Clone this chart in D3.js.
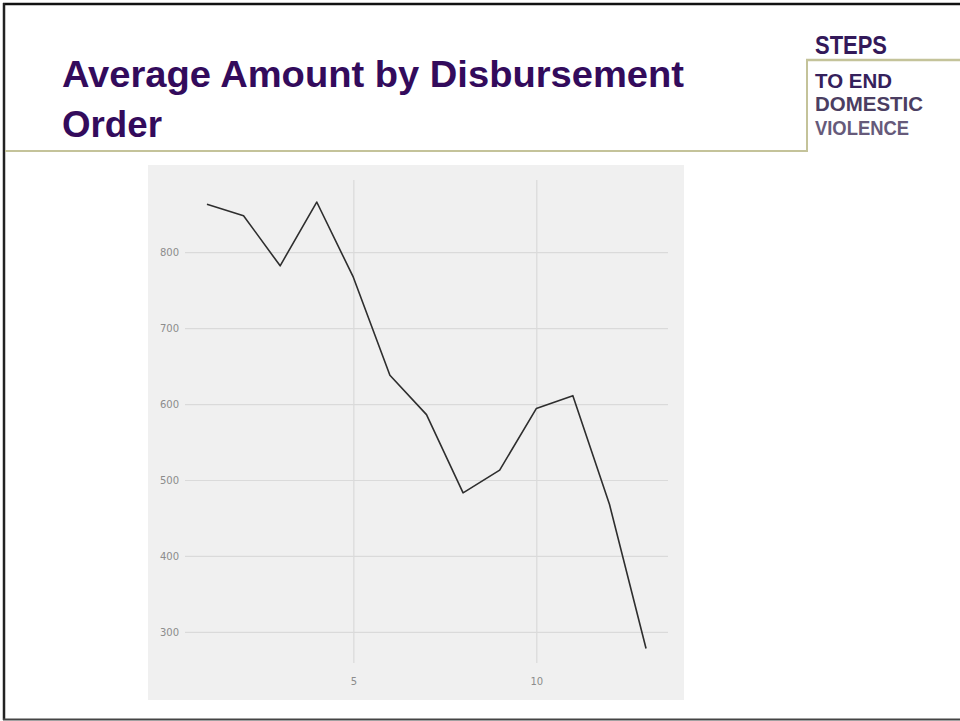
<!DOCTYPE html>
<html>
<head>
<meta charset="utf-8">
<script src="https://cdn.jsdelivr.net/npm/d3@7/dist/d3.min.js"></script>
<style>
  html, body { margin: 0; padding: 0; background: #fff; }
  svg { display: block; }
</style>
</head>
<body>
<svg id="chart" width="960" height="721"></svg>
<script>
// ---- data ----
const disbursementOrder = [1, 2, 3, 4, 5, 6, 7, 8, 9, 10, 11, 12, 13];
const averageAmount = [863, 848, 782, 866, 767, 638, 586, 483, 513, 594, 611, 468, 278];
const xTickValues = [5, 10];
const yTickValues = [300, 400, 500, 600, 700, 800];
const titleLines = ["Average Amount by Disbursement", "Order"];
const logoLines = ["STEPS", "TO END", "DOMESTIC", "VIOLENCE"];

const svg = d3.select("#chart");
const condensed = "'Liberation Sans', Arial, sans-serif";

// ---- slide frame ----
svg.append("line").attr("x1", 3).attr("x2", 960).attr("y1", 4).attr("y2", 4)
  .attr("stroke", "#111").attr("stroke-width", 2.5);
svg.append("line").attr("x1", 4).attr("x2", 4).attr("y1", 3).attr("y2", 720)
  .attr("stroke", "#222").attr("stroke-width", 2.5);
svg.append("line").attr("x1", 3).attr("x2", 960).attr("y1", 719.5).attr("y2", 719.5)
  .attr("stroke", "#444").attr("stroke-width", 2);

// header rules
const rule = "#c4c39a";
svg.append("line").attr("x1", 5).attr("x2", 808).attr("y1", 151).attr("y2", 151)
  .attr("stroke", rule).attr("stroke-width", 2);
svg.append("line").attr("x1", 807).attr("x2", 807).attr("y1", 60).attr("y2", 152)
  .attr("stroke", rule).attr("stroke-width", 2);
svg.append("line").attr("x1", 806).attr("x2", 960).attr("y1", 60).attr("y2", 60)
  .attr("stroke", rule).attr("stroke-width", 2.5);

// title
const titleLayout = [{y: 87, w: 622}, {y: 137, w: 100}];
svg.selectAll("text.title").data(titleLines).join("text")
  .attr("class", "title")
  .attr("x", 62).attr("y", (d, i) => titleLayout[i].y)
  .attr("font-family", condensed).attr("font-weight", "bold")
  .attr("font-size", 37).attr("fill", "#330b5c")
  .attr("textLength", (d, i) => titleLayout[i].w)
  .attr("lengthAdjust", "spacingAndGlyphs")
  .text(d => d);

// logo
const logoLayout = [
  {y: 54, w: 72, size: 26, fill: "#33195a"},
  {y: 88, w: 77, size: 21, fill: "#35215c"},
  {y: 111, w: 108, size: 21, fill: "#4b3e62"},
  {y: 135, w: 94, size: 21, fill: "#665a7a"}
];
svg.selectAll("text.logo").data(logoLines).join("text")
  .attr("class", "logo")
  .attr("x", 815).attr("y", (d, i) => logoLayout[i].y)
  .attr("font-family", condensed).attr("font-weight", "bold")
  .attr("font-size", (d, i) => logoLayout[i].size)
  .attr("fill", (d, i) => logoLayout[i].fill)
  .attr("textLength", (d, i) => logoLayout[i].w)
  .attr("lengthAdjust", "spacingAndGlyphs")
  .text(d => d);

// ---- chart panel ----
const panel = {x0: 148, y0: 165, x1: 684, y1: 700};
svg.append("rect").attr("x", panel.x0).attr("y", panel.y0)
  .attr("width", panel.x1 - panel.x0).attr("height", panel.y1 - panel.y0)
  .attr("fill", "#f0f0f0");

const xMin = d3.min(disbursementOrder), xMax = d3.max(disbursementOrder);
const xPad = (xMax - xMin) * 0.05;

const x = d3.scaleLinear().domain([xMin - xPad, xMax + xPad]).range([185, 668]);
const y = d3.scaleLinear().domain([259, 895]).range([663, 180]);

const grid = "#dadada";
const g = svg.append("g");

// y gridlines
g.append("g").attr("transform", "translate(185,0)")
  .call(d3.axisLeft(y).tickValues(yTickValues).tickSize(-(668 - 185)).tickPadding(6).tickFormat(d3.format("d")))
  .call(a => a.select(".domain").remove())
  .call(a => a.selectAll(".tick line").attr("stroke", grid).attr("stroke-width", 1.2))
  .call(a => a.selectAll(".tick text").attr("fill", "#8c8c8c").attr("font-size", 10)
    .attr("font-family", "'DejaVu Sans', sans-serif"));

// x gridlines
g.append("g").attr("transform", "translate(0,663)")
  .call(d3.axisBottom(x).tickValues(xTickValues).tickSize(-(663 - 180)).tickPadding(15).tickFormat(d3.format("d")))
  .call(a => a.select(".domain").remove())
  .call(a => a.selectAll(".tick line").attr("stroke", grid).attr("stroke-width", 1.2))
  .call(a => a.selectAll(".tick text").attr("fill", "#8c8c8c").attr("font-size", 10)
    .attr("font-family", "'DejaVu Sans', sans-serif"));

// line
const pts = disbursementOrder.map((d, i) => [d, averageAmount[i]]);
g.append("path").datum(pts)
  .attr("fill", "none").attr("stroke", "#2e2e2e").attr("stroke-width", 1.6)
  .attr("stroke-linejoin", "round")
  .attr("d", d3.line().x(d => x(d[0])).y(d => y(d[1])));
</script>
</body>
</html>
